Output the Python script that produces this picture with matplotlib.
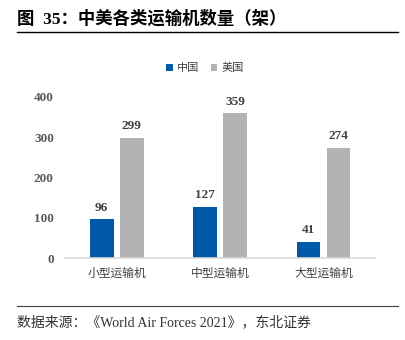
import matplotlib
matplotlib.use("Agg")
import matplotlib.pyplot as plt
import numpy as np

plt.rcParams['font.family'] = ['Liberation Serif', 'Noto Sans CJK SC', 'DejaVu Sans']

categories = ['小型运输机', '中型运输机', '大型运输机']
china = [96, 127, 41]
usa = [299, 359, 274]
yticks = [0, 100, 200, 300, 400]

blue = '#0058A8'
grey = '#B3B3B3'

fig = plt.figure(figsize=(4.06, 3.40), dpi=100)
ax = fig.add_axes([0.160, 0.241, 0.764, 0.474])

x = np.arange(len(categories))
w = 0.23
off = 0.145
b1 = ax.bar(x - off, china, w, color=blue, label='中国')
b2 = ax.bar(x + off, usa, w, color=grey, label='美国')

for rect, v in zip(b1, china):
    ax.text(rect.get_x() + rect.get_width() / 2, v + 14, str(v), ha='center', va='bottom',
            fontsize=9.5, fontweight='bold', color='#404040')
for rect, v in zip(b2, usa):
    ax.text(rect.get_x() + rect.get_width() / 2, v + 14, str(v), ha='center', va='bottom',
            fontsize=9.5, fontweight='bold', color='#404040')

ax.set_xlim(-0.5, 2.5)
ax.set_ylim(0, 400)
ax.set_yticks(yticks)
ax.set_yticklabels([str(t) for t in yticks], fontsize=9.5, fontweight='bold', color='#595959')
ax.set_xticks(x)
ax.set_xticklabels(categories, fontsize=8.5, color='#404040', family=['Noto Sans CJK SC'])
ax.tick_params(axis='both', length=0)
ax.tick_params(axis='y', pad=8)
ax.tick_params(axis='x', pad=6)
for s in ['top', 'right', 'left']:
    ax.spines[s].set_visible(False)
ax.spines['bottom'].set_color('#D9D9D9')
ax.spines['bottom'].set_linewidth(1.2)

leg = fig.legend(loc='center', bbox_to_anchor=(0.505, 0.80), ncol=2, frameon=False,
                 prop={'family': 'Noto Sans CJK SC', 'size': 8}, handlelength=0.6,
                 handleheight=0.6, handletextpad=0.4, columnspacing=1.0)
for t in leg.get_texts():
    t.set_color('#404040')

fig.text(0.042, 0.945, '图  35：中美各类运输机数量（架）', fontsize=12.5, fontweight='bold',
         color='black', va='center', family=['Liberation Serif', 'Noto Sans CJK SC'])
fig.add_artist(plt.Line2D([0.042, 0.980], [0.905, 0.905], color='black', linewidth=1.0))
fig.add_artist(plt.Line2D([0.042, 0.980], [0.100, 0.100], color='#404040', linewidth=0.8))
fig.text(0.042, 0.052, '数据来源：《World Air Forces 2021》，东北证券', fontsize=10,
         color='#333333', va='center', family=['Liberation Serif', 'Noto Sans CJK SC'])

fig.savefig('out.png', dpi=100)
